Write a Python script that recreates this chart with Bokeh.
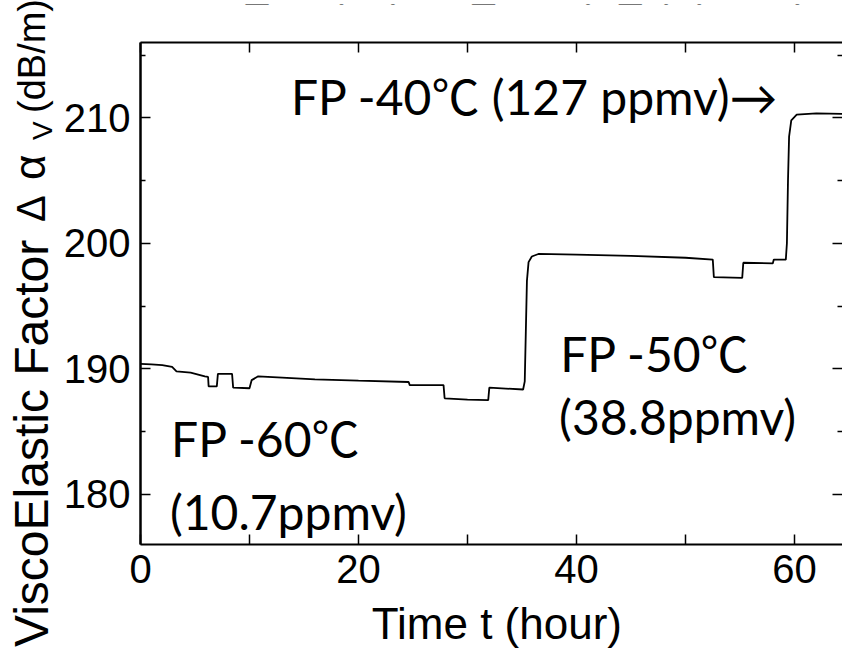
from bokeh.plotting import figure
from bokeh.models import Range1d, LinearAxis, FixedTicker, Label, Div
from bokeh.layouts import row, column
from bokeh.embed import file_html
from bokeh.resources import INLINE

# ---- data ----
time_h = [0.0, 1.0, 2.0, 2.9, 3.3, 4.6, 5.9, 6.2, 6.25, 7.0, 7.1, 8.4, 8.5, 10.0, 10.2,
          10.8, 13.0, 16.0, 20.0, 24.6, 24.7, 27.8, 27.9, 30.0, 31.9, 32.0, 35.1,
          35.25, 35.35, 35.45, 35.6, 35.9, 36.5, 40.0, 45.0, 50.0, 52.5, 52.6, 55.2,
          55.3, 58.0, 58.1, 59.2, 59.3, 59.4, 59.5, 59.7, 60.2, 62.0, 65.0]
vef = [190.4, 190.35, 190.3, 190.15, 189.8, 189.7, 189.4, 189.35, 188.6, 188.6, 189.6,
       189.6, 188.5, 188.45, 189.1, 189.4, 189.3, 189.15, 189.05, 188.95, 188.7, 188.7,
       187.65, 187.55, 187.5, 188.5, 188.35, 189.0, 193.0, 197.0, 198.5, 198.95, 199.15,
       199.1, 199.0, 198.85, 198.7, 197.3, 197.25, 198.45, 198.4, 198.7, 198.7, 200.0,
       205.0, 208.5, 209.8, 210.25, 210.35, 210.3]

x_major = [0, 20, 40, 60]
x_minor = [10, 30, 50]
y_major = [180, 190, 200, 210]
y_minor = [175, 185, 195, 205, 215]

annotations = [
    ("FP -60℃", 2.8, 184.47),
    ("(10.7ppmv)", 2.7, 178.65),
    ("FP -50℃", 38.5, 191.24),
    ("(38.8ppmv)", 38.4, 186.22),
    ("FP -40℃ (127 ppmv)→", 13.8, 211.71),
]

y_title_parts = ["ViscoElastic Factor", "Δ", "α", "V", "(dB/m)"]
x_title = "Time t (hour)"
top_title = "α_wet(ref) − α_solid(N_2) (dB/m)"

X0, X1 = 0, 64.4
Y0, Y1 = 176, 216

LEFT_W = 60
MAIN_W = 842 - LEFT_W
TOP_H = 8
BOT_H = 54
MAIN_H = 654 - TOP_H - BOT_H
PX_PER_X = 10.84      # main frame: x=0 at page px 140
FRAME_LEFT = 140

def px_to_x(px):
    return (px - FRAME_LEFT) / PX_PER_X

# ---- main plot ----
p = figure(width=MAIN_W, height=MAIN_H, output_backend="svg", toolbar_location=None,
           x_range=Range1d(X0, X1), y_range=Range1d(Y0, Y1),
           min_border_left=80, min_border_top=34, min_border_right=0,
           min_border_bottom=56, x_axis_location=None, y_axis_location=None)
p.grid.visible = False
p.outline_line_color = None
p.background_fill_color = "white"
p.border_fill_color = "white"

xt = FixedTicker(ticks=x_major, minor_ticks=x_minor)
yt = FixedTicker(ticks=y_major, minor_ticks=y_minor)

def style_axis(ax, labels=True, lw=2):
    ax.axis_line_color = "black"
    ax.axis_line_width = lw
    ax.major_tick_in = 10
    ax.major_tick_out = 0
    ax.minor_tick_in = 10
    ax.minor_tick_out = 0
    ax.major_tick_line_width = 1.5
    ax.minor_tick_line_width = 1.5
    ax.major_tick_line_color = "black"
    ax.minor_tick_line_color = "black"
    if labels:
        ax.major_label_text_font = "Liberation Sans"
        ax.major_label_text_font_size = "40px"
        ax.major_label_text_color = "black"
    else:
        ax.major_label_text_font_size = "0px"
        ax.major_label_standoff = 0
        ax.major_label_text_color = None

xb = LinearAxis(ticker=xt)
style_axis(xb)
xb.major_label_standoff = 10
p.add_layout(xb, "below")

xa = LinearAxis(ticker=xt)
style_axis(xa, labels=False)
p.add_layout(xa, "above")

yl = LinearAxis(ticker=yt)
style_axis(yl, lw=2.5)
yl.minor_tick_in = 5
yl.major_label_standoff = 10
p.add_layout(yl, "left")

yr = LinearAxis(ticker=yt)
style_axis(yr, labels=False)
yr.minor_tick_in = 5
yr.axis_line_color = None
p.add_layout(yr, "right")

p.line(time_h, vef, line_color="black", line_width=1.8)

ann_font = "Lato, 'Noto Sans CJK JP', sans-serif"
for txt, ax_, ay_ in annotations:
    p.add_layout(Label(x=ax_, y=ay_, text=txt, text_font=ann_font,
                       text_font_size="48px", text_color="black",
                       text_align="left", text_baseline="alphabetic"))

def strip(h):
    # shares the main x range; its frame lines up with the main frame in the column
    f = figure(width=MAIN_W, height=h, output_backend="svg", toolbar_location=None,
               x_range=p.x_range, y_range=Range1d(0, h),
               min_border=0, x_axis_location=None, y_axis_location=None)
    f.grid.visible = False
    f.outline_line_color = None
    f.background_fill_color = "white"
    f.border_fill_color = "white"
    return f

# ---- top strip: title cut off by the top edge ----
tf = strip(TOP_H)
tf.add_layout(Label(x=px_to_x(222), y=TOP_H + 5 + 0.42 * 40, text=top_title,
                    text_font="Liberation Sans", text_font_size="40px",
                    text_color="black", text_align="left", text_baseline="alphabetic"))

# ---- bottom strip: x-axis title ----
bf = strip(BOT_H)
bf.add_layout(Label(x=px_to_x(370), y=BOT_H - 41.5 + 0.42 * 44, text=x_title,
                    text_font="Liberation Sans", text_font_size="44px",
                    text_color="black", text_align="left", text_baseline="alphabetic"))

# ---- left: rotated y-axis title as HTML pieces ----
# (text, page y where the text starts, baseline x, font px)
yspec = [(y_title_parts[0], 647, 49, 48),
         (y_title_parts[1], 222, 45, 40),
         (y_title_parts[2], 180, 45, 44),
         (y_title_parts[3], 140, 53, 28),
         (y_title_parts[4], 113, 45, 38)]
pieces = ""
for txt, py, bx, fs in yspec:
    left = bx - 0.8465 * fs
    pieces += (f'<div style="position:absolute;left:{left:.1f}px;top:{py}px;'
               f'transform-origin:0 0;transform:rotate(-90deg);white-space:nowrap;'
               f"font-family:'Liberation Sans',Arial,sans-serif;font-size:{fs}px;"
               f'line-height:1;color:#000;">{txt}</div>')
html = (f'<div style="position:relative;width:{LEFT_W}px;height:654px;'
        f'overflow:hidden;margin:0;padding:0;">{pieces}</div>')
ydiv = Div(text=html, width=LEFT_W, height=654, margin=(0, 0, 0, 0))

layout = row(ydiv, column(tf, p, bf, spacing=0), spacing=0)
open("out.html", "w").write(file_html(layout, INLINE))
